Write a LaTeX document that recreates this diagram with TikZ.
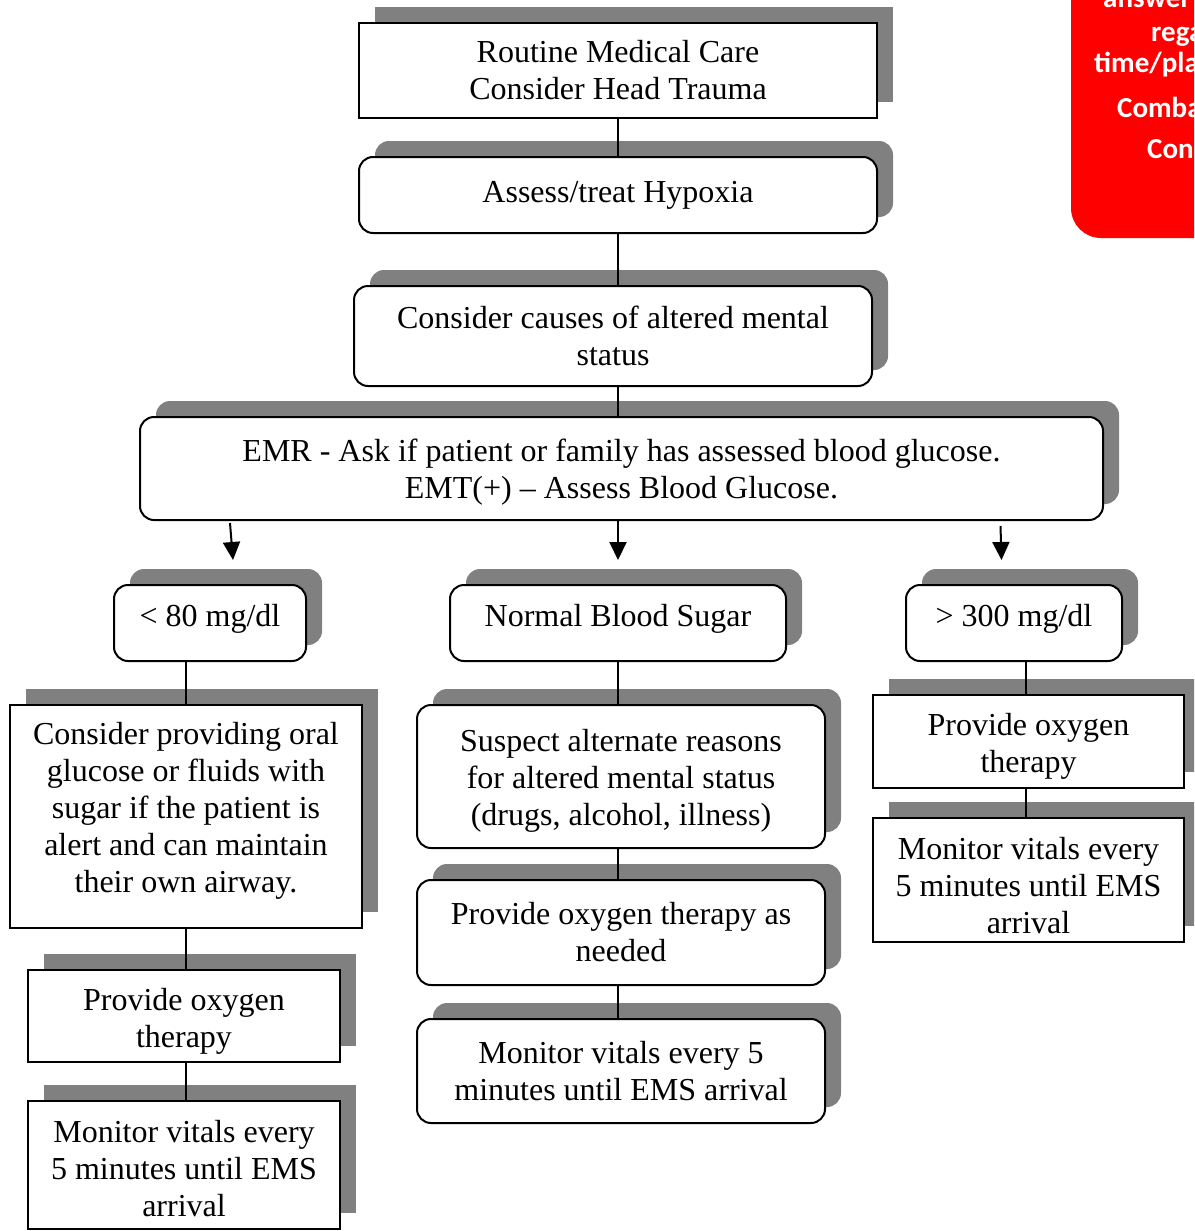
\documentclass[tikz,border=0pt]{standalone}
\usepackage{fontspec}
\setmainfont{Liberation Serif}
\newfontfamily\notefont{Carlito}
\usetikzlibrary{shadows,arrows.meta}
\definecolor{shadegray}{HTML}{808080}
\definecolor{notered}{HTML}{FF0000}
% invisible struts that nudge a node's text block down (taller first line) or up (deeper last line)
\newcommand\tallline[1]{\rule{0pt}{#1}}
\newcommand\deepline[1]{\rule[-#1]{0pt}{0pt}}
\begin{document}
\begin{tikzpicture}[x=1pt,y=-1pt,
  base/.style={draw=black, line width=2pt, fill=white, align=center, inner sep=0pt,
    font=\fontsize{32}{37}\selectfont,
    drop shadow={shadow xshift=16pt, shadow yshift=16pt, fill=shadegray, opacity=1}},
  sqbox/.style={base},
  rbox/.style={base, rounded corners=14pt},
  link/.style={line width=2pt},
  arr/.style={line width=2pt, -{Triangle[width=17pt,length=18pt]}},
  note/.style={anchor=base west, text=white, inner sep=0pt,
    font=\notefont\bfseries\fontsize{29}{34}\selectfont}]
\useasboundingbox (0,0) rectangle (1194,1231);
\begin{scope}
\clip (0,0) rectangle (1194,1231);

% side note panel
\fill[notered, rounded corners=30pt] (1071,-40) -- (1071,238) -- (1260,238) -- (1260,-40) -- cycle;
\node[note] (n1) at (1103,8) {answer};
\node[note] (n2) at (1151,42) {rega};
\node[note] (n3) at (1094,73) {time/pla};
\node[note] (n4) at (1117,117) {Comba};
\node[note] (n5) at (1147,158) {Con};

% main column
\node[sqbox, minimum width=518pt, minimum height=95pt] (routine) at (618,70.5)
  {Routine Medical Care\\Consider Head Trauma};
\node[rbox, minimum width=518pt, minimum height=76pt] (assess) at (618,195)
  {Assess/treat Hypoxia};
\node[rbox, minimum width=518pt, minimum height=100pt] (causes) at (613,336)
  {Consider causes of altered mental\\status};
\node[rbox, minimum width=963pt, minimum height=103pt] (emr) at (621.5,468.5)
  {\tallline{30.5pt}EMR - Ask if patient or family has assessed blood glucose.\\EMT(+) -- Assess Blood Glucose.};

% glucose ranges
\node[rbox, minimum width=192pt, minimum height=76pt, text depth=15pt] (low) at (210,623)
  {< 80 mg/dl};
\node[rbox, minimum width=336pt, minimum height=76pt, text depth=15pt] (normal) at (618,623)
  {Normal Blood Sugar};
\node[rbox, minimum width=216pt, minimum height=76pt, text depth=15pt] (high) at (1014,623)
  {> 300 mg/dl};

% low branch
\node[sqbox, minimum width=352pt, minimum height=223pt] (oral) at (186,816.5)
  {Consider providing oral\\glucose or fluids with\\sugar if the patient is\\alert and can maintain\\their own airway.\deepline{19pt}};
\node[sqbox, minimum width=312pt, minimum height=92pt] (oxyL) at (184,1016)
  {\tallline{32.5pt}Provide oxygen\\therapy};
\node[sqbox, minimum width=312pt, minimum height=128pt] (monL) at (184,1165)
  {\tallline{28.5pt}Monitor vitals every\\5 minutes until EMS\\arrival};

% normal branch
\node[rbox, minimum width=408pt, minimum height=143pt] (suspect) at (621,776.5)
  {\tallline{30.5pt}Suspect alternate reasons\\for altered mental status\\(drugs, alcohol, illness)};
\node[rbox, minimum width=408pt, minimum height=105pt] (oxyC) at (621,932.5)
  {Provide oxygen therapy as\\needed};
\node[rbox, minimum width=408pt, minimum height=104pt] (monC) at (621,1071)
  {Monitor vitals every 5\\minutes until EMS arrival};

% high branch
\node[sqbox, minimum width=311pt, minimum height=93pt] (oxyR) at (1028.5,741.5)
  {\tallline{32.5pt}Provide oxygen\\therapy};
\node[sqbox, minimum width=311pt, minimum height=124pt] (monR) at (1028.5,880)
  {\tallline{32.5pt}Monitor vitals every\\5 minutes until EMS\\arrival};

% connectors
\draw[link] (routine.south) -- (assess.north -| routine.south);
\draw[link] (assess.south) -- (causes.north -| assess.south);
\draw[link] (causes.south -| assess.south) -- (emr.north -| assess.south);

\coordinate (tipL) at (233,560);
\coordinate (tipC) at (618,560);
\coordinate (tipR) at (1001.5,560);
\draw[arr] ([xshift=-391.5pt,yshift=-2pt]emr.south) -- (tipL);
\draw[arr] ([xshift=-3.5pt]emr.south) -- (tipC);
\draw[arr] ([xshift=379pt,yshift=-5pt]emr.south) -- (tipR);

\draw[link] (oral.north) -- (low.south -| oral.north);
\draw[link] (oral.south) -- (oxyL.north -| oral.south);
\draw[link] (oxyL.south -| oral.south) -- (monL.north -| oral.south);

\draw[link] (normal.south) -- (suspect.north -| normal.south);
\draw[link] (suspect.south -| normal.south) -- (oxyC.north -| normal.south);
\draw[link] (oxyC.south -| normal.south) -- (monC.north -| normal.south);

\coordinate (hs) at ([xshift=12pt]high.south);
\draw[link] (hs) -- (oxyR.north -| hs);
\draw[link] (oxyR.south -| hs) -- (monR.north -| hs);
\end{scope}
\end{tikzpicture}
\end{document}
